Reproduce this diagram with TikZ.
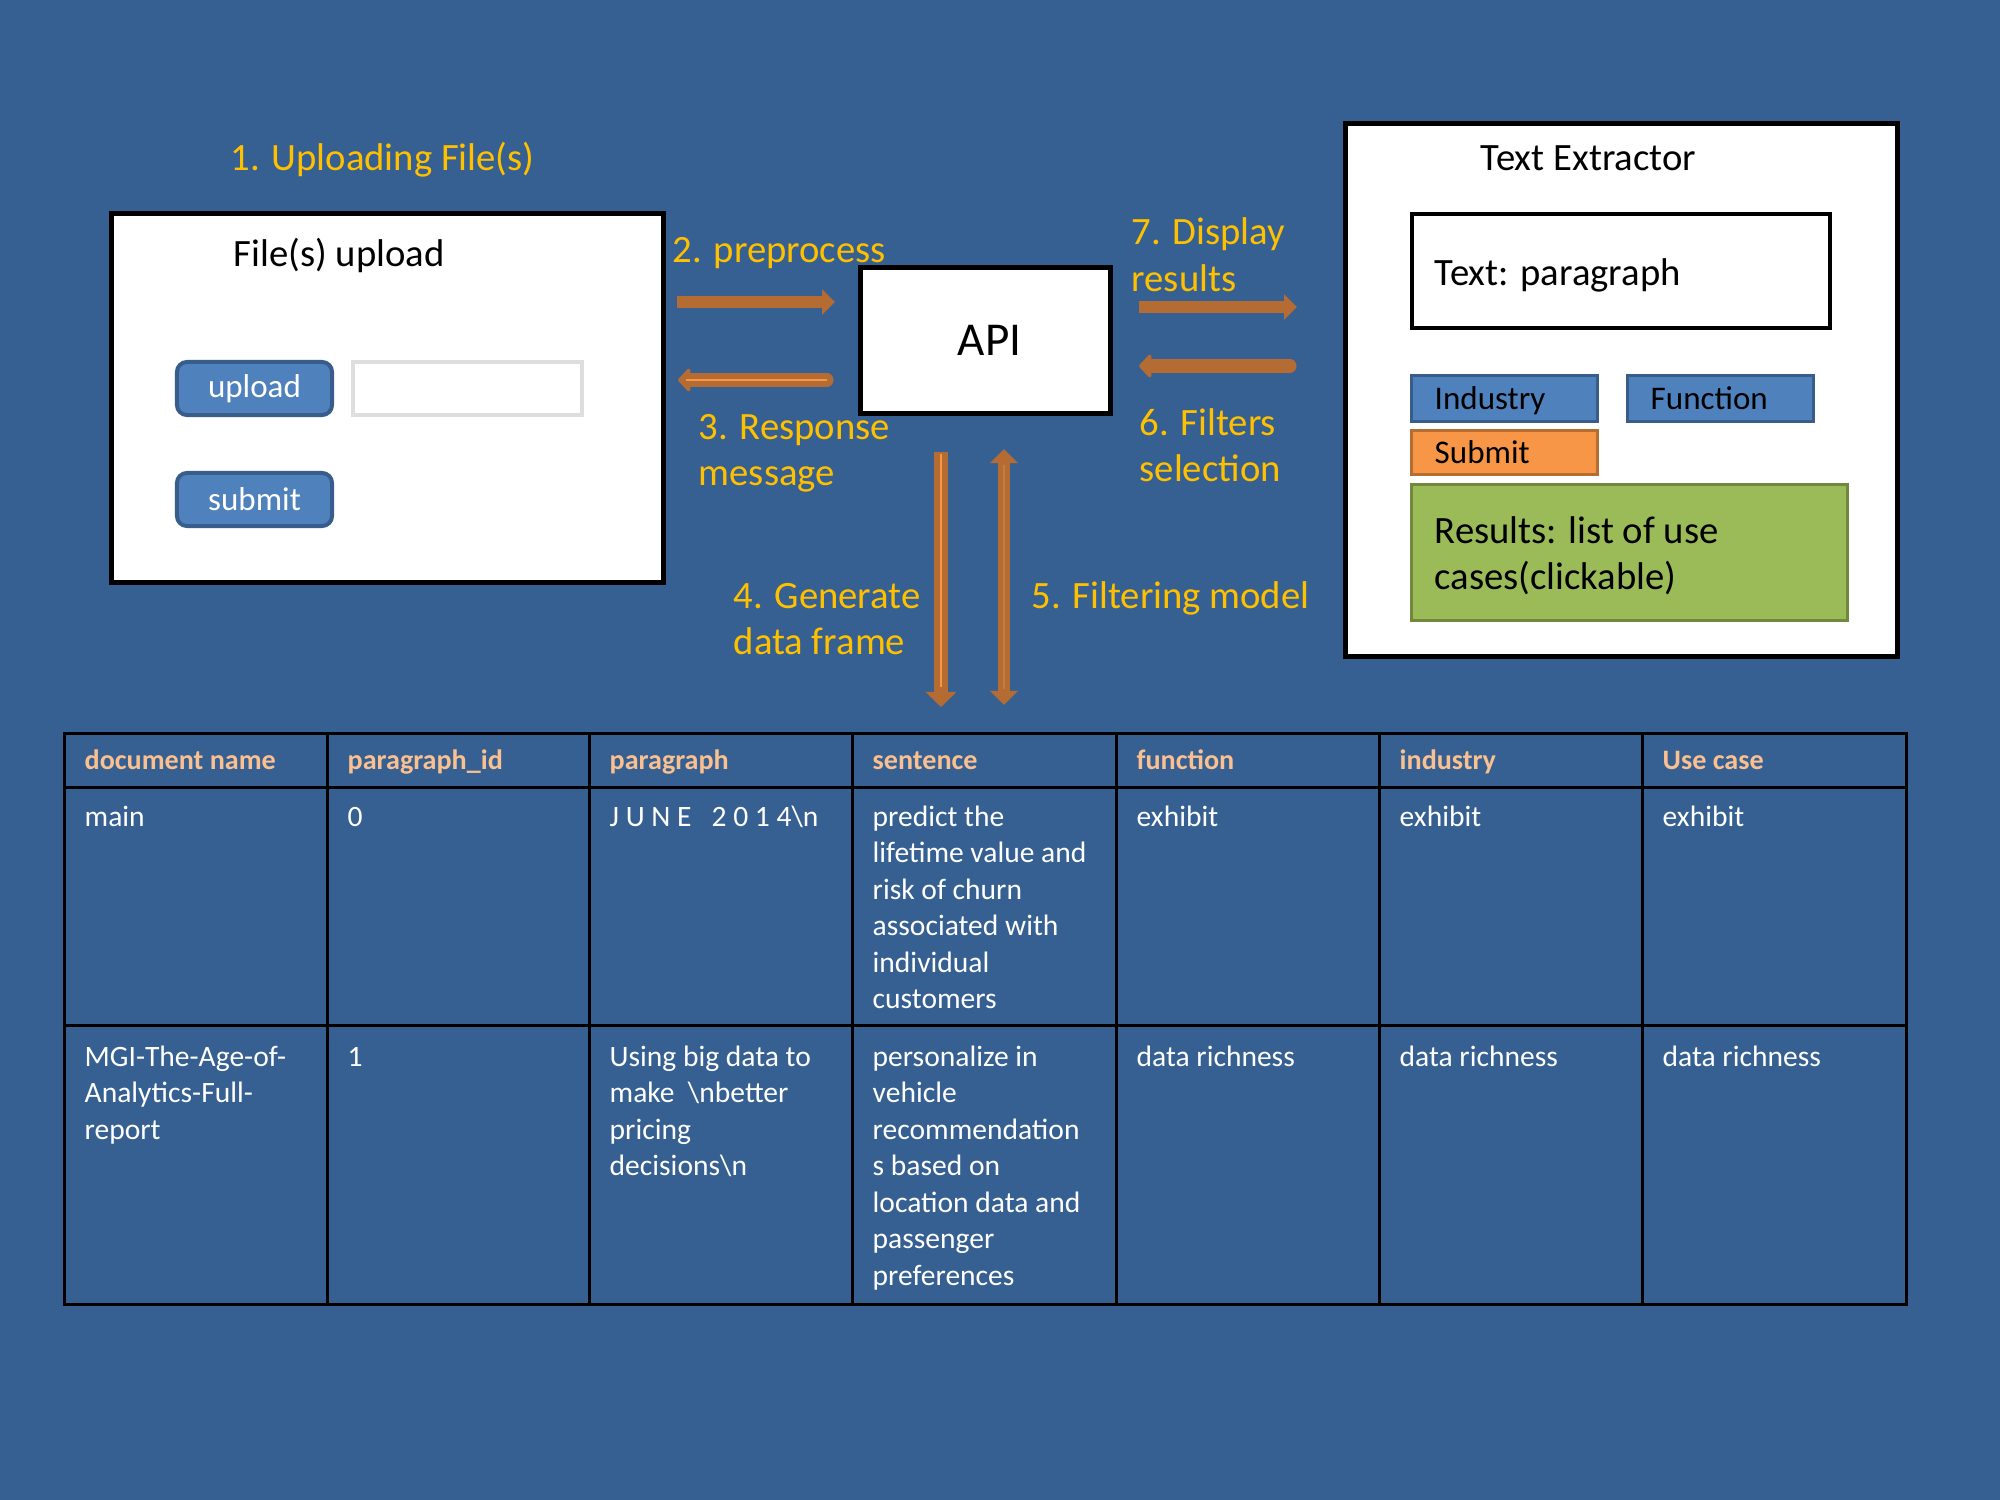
\documentclass[tikz,border=0pt]{standalone}
\usepackage{fontspec}
\setmainfont{Carlito}
\usetikzlibrary{arrows.meta}
\definecolor{bgblue}{HTML}{366092}
\definecolor{arrowc}{RGB}{181,108,51}
\definecolor{arrowlight}{HTML}{F79646}
\definecolor{arrowmid}{RGB}{200,122,60}
\definecolor{gold}{HTML}{FFC000}
\definecolor{peach}{HTML}{FAC090}
\definecolor{btnblue}{HTML}{4F81BD}
\definecolor{btnborder}{HTML}{385D8A}
\definecolor{orangefill}{HTML}{F79646}
\definecolor{orangeborder}{HTML}{B66D31}
\definecolor{greenfill}{HTML}{9BBB59}
\definecolor{greenborder}{HTML}{71893F}
\definecolor{fieldgray}{HTML}{DEDEDE}
\newcommand{\mlines}[1]{\begin{tabular}[t]{@{}l@{}}#1\end{tabular}}
\begin{document}
\begin{tikzpicture}[x=0.01cm,y=-0.01cm,
  lbl/.style={inner sep=0pt, anchor=base west, text=gold,
    font=\fontsize{11}{13.2}\selectfont},
  blk/.style={inner sep=0pt, anchor=base west, text=black,
    font=\fontsize{11}{13.2}\selectfont},
  panel/.style={draw=black, fill=white, line width=0.05cm, inner sep=0pt},
  webbtn/.style={draw=btnborder, fill=btnblue, line width=0.04cm, rounded corners=0.1cm,
    inner sep=0pt, minimum width=1.55cm, minimum height=0.53cm, text=white,
    font=\fontsize{9.4}{11}\selectfont},
  field/.style={draw=fieldgray, fill=white, line width=0.04cm, inner sep=0pt,
    minimum width=2.29cm, minimum height=0.53cm},
  selbtn/.style={draw=btnborder, fill=btnblue, line width=0.03cm, inner sep=0pt,
    minimum width=1.85cm, minimum height=0.45cm},
  btntext/.style={inner sep=0pt, anchor=base west, text=black,
    font=\fontsize{9.4}{11}\selectfont},
  flow/.style={draw=arrowc, line width=0.11cm,
    -{Triangle[width=0.25cm,length=0.13cm]}},
  flowback/.style={draw=arrowc, line width=0.13cm, line cap=round,
    -{Triangle[width=0.27cm,length=0.13cm,round]}},
  inner/.style={draw=arrowlight, line width=0.025cm},
  grid/.style={draw=black, line width=0.03cm},
  thead/.style={inner sep=0pt, anchor=base west, text=peach,
    font=\bfseries\fontsize{8}{10}\selectfont},
  tcell/.style={inner sep=0pt, anchor=base west, text=white,
    font=\fontsize{8.4}{10.4}\selectfont}
]
\fill[bgblue] (0,0) rectangle (2000,1500);
\useasboundingbox (0,0) rectangle (2000,1500);

% ---------- File upload panel ----------
\node[lbl] (t1) at (230,171) {1. Uploading File(s)};
\node[panel, minimum width=5.51cm, minimum height=3.68cm] (upanel) at (387.5,398) {};
\node[blk] (utitle) at (233,267) {File(s) upload};
\node[webbtn] (upbtn) at (254.5,388.5) {upload};
\node[field] (ufield) at (467.5,388.5) {};
\node[webbtn] (subbtn) at (254.5,499.5) {submit};

% ---------- API ----------
\node[panel, minimum width=2.49cm, minimum height=1.45cm,
  font=\fontsize{13.4}{16}\selectfont] (api) at (985.5,340.5) {\hspace*{0.08cm}API};

% ---------- Text Extractor panel ----------
\node[panel, minimum width=5.51cm, minimum height=5.32cm] (tpanel) at (1621.5,390) {};
\node[blk] (ttitle) at (1480,171) {Text Extractor};
\node[draw=black, fill=white, line width=0.04cm, inner sep=0pt,
  minimum width=4.18cm, minimum height=1.14cm] (tpara) at (1621,271) {};
\node[blk] (tparatext) at (1434,285) {Text: paragraph};
\node[selbtn] (ind) at (1504.5,398.5) {};
\node[btntext] (indt) at (1434,409) {Industry};
\node[selbtn] (fun) at (1720.5,398.5) {};
\node[btntext] (funt) at (1650,409) {Function};
\node[draw=orangeborder, fill=orangefill, line width=0.03cm, inner sep=0pt,
  minimum width=1.85cm, minimum height=0.43cm] (tsub) at (1504.5,452.5) {};
\node[btntext] (tsubt) at (1434,463) {Submit};
\node[draw=greenborder, fill=greenfill, line width=0.03cm, inner sep=0pt,
  minimum width=4.35cm, minimum height=1.35cm] (res) at (1629.5,552.5) {};
\node[blk] (rest) at (1434,543) {\mlines{Results: list of use\\cases(clickable)}};

% ---------- Arrow end points ----------
\coordinate (a2s) at (677,302);  \coordinate (a2e) at (835,302);
\coordinate (a3s) at (827,380);  \coordinate (a3e) at (678,380);
\coordinate (a7s) at (1139,307); \coordinate (a7e) at (1297,307);
\coordinate (a6s) at (1290,366); \coordinate (a6e) at (1139,366);
\coordinate (a4s) at (941,452);  \coordinate (a4e) at (941,707);
\coordinate (a5s) at (1004,449); \coordinate (a5e) at (1004,705);

\draw[flow] (a2s) -- (a2e);
\draw[flowback] (a3s) -- (a3e);
\draw[inner] (a3s) -- ([xshift=0.08cm]a3e);
\draw[flow] (a7s) -- (a7e);
\draw[flowback] (a6s) -- (a6e);
\draw[draw=arrowc, line width=0.14cm, -{Triangle[width=0.30cm,length=0.15cm]}] (a4s) -- (a4e);
\draw[inner] ([yshift=-0.02cm]a4s) -- ([yshift=0.2cm]a4e);
\draw[draw=arrowc, line width=0.12cm,
  {Triangle[width=0.27cm,length=0.14cm]}-{Triangle[width=0.27cm,length=0.14cm]}] (a5s) -- (a5e);
\draw[draw=arrowmid, line width=0.02cm] ([yshift=-0.16cm]a5s) -- ([yshift=0.16cm]a5e);

% ---------- Arrow labels ----------
\node[lbl] (l2) at (672,262) {2. preprocess};
\node[lbl] (l3) at (698,439) {\mlines{3. Response\\message}};
\node[lbl] (l4) at (733,608) {\mlines{4. Generate\\data frame}};
\node[lbl] (l5) at (1031,608) {5. Filtering model};
\node[lbl] (l6) at (1139,435) {\mlines{6. Filters\\selection}};
\node[lbl] (l7) at (1131,245) {\mlines{7. Display\\results}};

% ---------- Table ----------
\draw[grid] (64,733) rectangle (1906,1304);
\draw[grid] (64,787) -- (1906,787);
\draw[grid] (64,1025) -- (1906,1025);
\foreach \cx in {327,589,852,1116,1379,1642} {\draw[grid] (\cx,733) -- (\cx,1304);}

\node[thead] (h1) at (84,769) {document name};
\node[thead] (h2) at (347,769) {paragraph\_id};
\node[thead] (h3) at (609,769) {paragraph};
\node[thead] (h4) at (872,769) {sentence};
\node[thead] (h5) at (1136,769) {function};
\node[thead] (h6) at (1399,769) {industry};
\node[thead] (h7) at (1662,769) {Use case};

\node[tcell] (c11) at (84,826) {main};
\node[tcell] (c12) at (347,826) {0};
\node[tcell] (c13) at (609,826) {J U N E \ \ 2 0 1 4\textbackslash n};
\node[tcell] (c14) at (872,826) {\mlines{predict the\\lifetime value and\\risk of churn\\associated with\\individual\\customers}};
\node[tcell] (c15) at (1136,826) {exhibit};
\node[tcell] (c16) at (1399,826) {exhibit};
\node[tcell] (c17) at (1662,826) {exhibit};

\node[tcell] (c21) at (84,1066) {\mlines{MGI-The-Age-of-\\Analytics-Full-\\report}};
\node[tcell] (c22) at (347,1066) {1};
\node[tcell] (c23) at (609,1066) {\mlines{Using big data to\\make \ \textbackslash nbetter\\pricing\\decisions\textbackslash n}};
\node[tcell] (c24) at (872,1066) {\mlines{personalize in\\vehicle\\recommendation\\s based on\\location data and\\passenger\\preferences}};
\node[tcell] (c25) at (1136,1066) {data richness};
\node[tcell] (c26) at (1399,1066) {data richness};
\node[tcell] (c27) at (1662,1066) {data richness};
\end{tikzpicture}
\end{document}
